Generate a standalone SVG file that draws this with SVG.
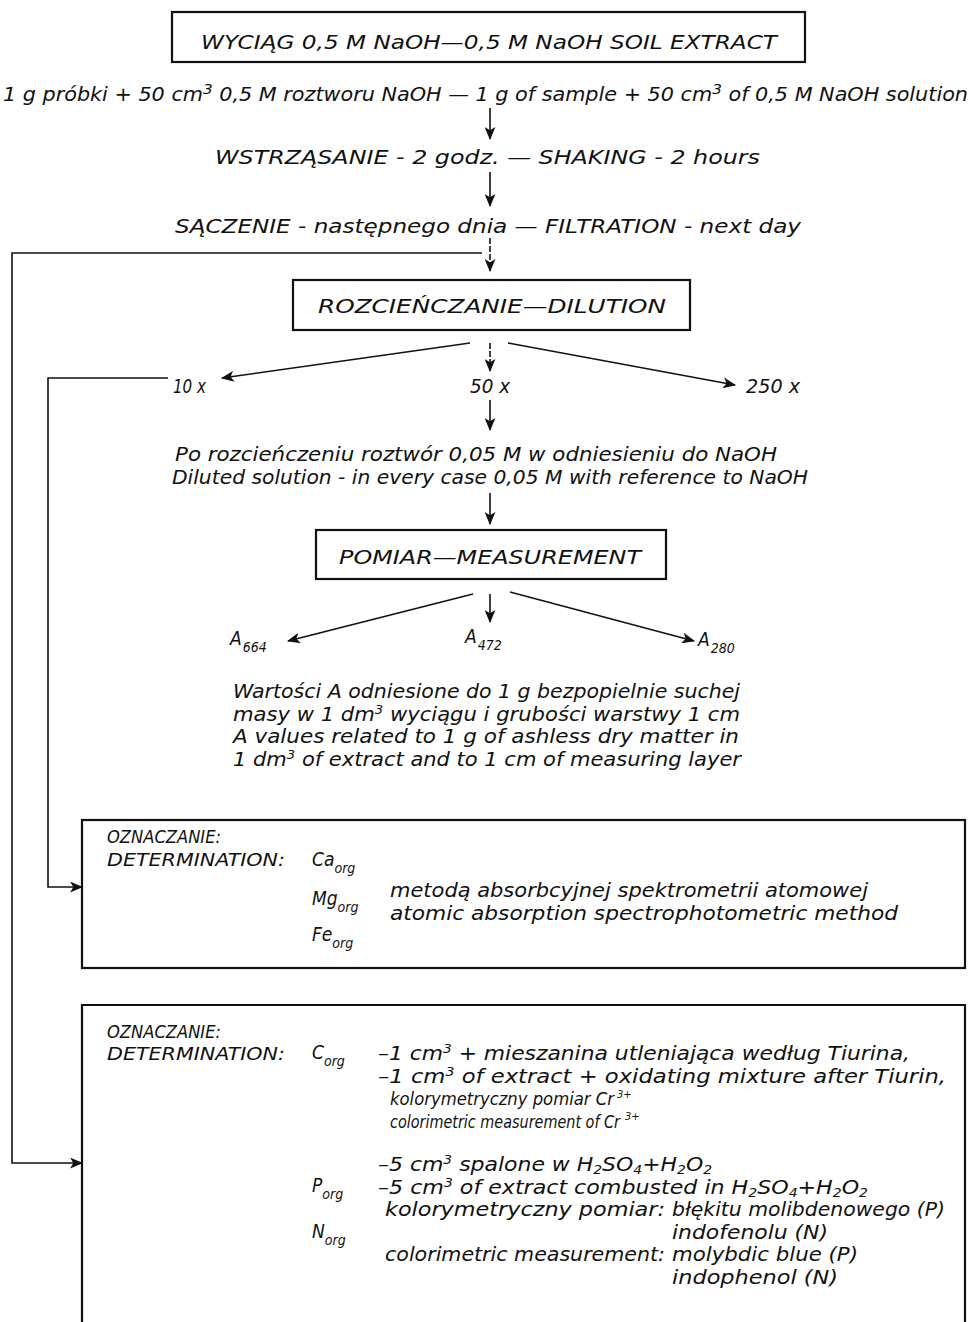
<svg xmlns="http://www.w3.org/2000/svg" width="973" height="1322" viewBox="0 0 973 1322">
<defs>
<style>
text{font-family:"DejaVu Sans Condensed","Liberation Sans",sans-serif;font-style:italic;fill:#111;font-size:19px}
.t{font-size:20px}
.m{font-size:17px}
.box{fill:#fff;stroke:#111;stroke-width:2.2}
.ln{fill:none;stroke:#111;stroke-width:1.6}
.s{font-size:14px}
.u{font-size:12px}
.v{font-size:11px}
</style>
<marker id="ah" viewBox="0 0 12 10" refX="11" refY="5" markerWidth="13" markerHeight="11" markerUnits="userSpaceOnUse" orient="auto">
<path d="M0,0 L12,5 L0,10 L3,5 Z" fill="#111"/>
</marker>
</defs>
<rect width="973" height="1322" fill="#fff"/>

<g id="connectors">
<line class="ln" x1="490" y1="108" x2="490" y2="139" marker-end="url(#ah)"/>
<line class="ln" x1="490" y1="172" x2="490" y2="206" marker-end="url(#ah)"/>
<line class="ln" x1="490" y1="238" x2="490" y2="271" stroke-dasharray="6,2" marker-end="url(#ah)"/>
<polyline class="ln" points="482,253 12,253 12,1163 82,1163" marker-end="url(#ah)"/>
<line class="ln" x1="470" y1="343" x2="222" y2="378" marker-end="url(#ah)"/>
<line class="ln" x1="490" y1="343" x2="490" y2="371" stroke-dasharray="6,2" marker-end="url(#ah)"/>
<line class="ln" x1="508" y1="343" x2="735" y2="385" marker-end="url(#ah)"/>
<polyline class="ln" points="168,378 48,378 48,887 82,887" marker-end="url(#ah)"/>
<line class="ln" x1="490" y1="400" x2="490" y2="430" marker-end="url(#ah)"/>
<line class="ln" x1="490" y1="493" x2="490" y2="524" marker-end="url(#ah)"/>
<line class="ln" x1="473" y1="594" x2="288" y2="641" marker-end="url(#ah)"/>
<line class="ln" x1="490" y1="594" x2="490" y2="622" marker-end="url(#ah)"/>
<line class="ln" x1="510" y1="592" x2="694" y2="641" marker-end="url(#ah)"/>
</g>

<g id="n-extract">
<rect class="box" x="172" y="12" width="633" height="50"/>
<text class="t" x="201" y="49" textLength="576" lengthAdjust="spacingAndGlyphs">WYCIĄG 0,5 M NaOH—0,5 M NaOH SOIL EXTRACT</text>
</g>

<g id="n-sample">
<text x="3" y="101" textLength="965" lengthAdjust="spacingAndGlyphs">1 g próbki + 50 cm<tspan class="s" dy="-7">3</tspan><tspan dy="7"> 0,5 M roztworu NaOH — 1 g of sample + 50 cm</tspan><tspan class="s" dy="-7">3</tspan><tspan dy="7"> of 0,5 M NaOH solution</tspan></text>
</g>

<g id="n-shaking">
<text x="215" y="164" textLength="545" lengthAdjust="spacingAndGlyphs">WSTRZĄSANIE - 2 godz. — SHAKING - 2 hours</text>
</g>

<g id="n-filtration">
<text x="175" y="233" textLength="626" lengthAdjust="spacingAndGlyphs">SĄCZENIE - następnego dnia — FILTRATION - next day</text>
</g>

<g id="n-dilution">
<rect class="box" x="293" y="280" width="397" height="50"/>
<text class="t" x="318" y="313" textLength="348" lengthAdjust="spacingAndGlyphs">ROZCIEŃCZANIE—DILUTION</text>
</g>

<g id="n-10x"><text x="173" y="393" textLength="33" lengthAdjust="spacingAndGlyphs">10 x</text></g>
<g id="n-50x"><text x="470" y="393" textLength="40" lengthAdjust="spacingAndGlyphs">50 x</text></g>
<g id="n-250x"><text x="746" y="393" textLength="54" lengthAdjust="spacingAndGlyphs">250 x</text></g>

<g id="n-diluted">
<text x="175" y="461" textLength="602" lengthAdjust="spacingAndGlyphs">Po rozcieńczeniu roztwór 0,05 M w odniesieniu do NaOH</text>
<text x="172" y="484" textLength="636" lengthAdjust="spacingAndGlyphs">Diluted solution - in every case 0,05 M with reference to NaOH</text>
</g>

<g id="n-measurement">
<rect class="box" x="316" y="530" width="350" height="49"/>
<text class="t" x="339" y="564" textLength="302" lengthAdjust="spacingAndGlyphs">POMIAR—MEASUREMENT</text>
</g>

<g id="n-a664"><text x="230" y="645">A<tspan class="s" dx="1" dy="7">664</tspan></text></g>
<g id="n-a472"><text x="465" y="643">A<tspan class="s" dx="1" dy="7">472</tspan></text></g>
<g id="n-a280"><text x="698" y="646">A<tspan class="s" dx="1" dy="7">280</tspan></text></g>

<g id="n-avalues">
<text x="233" y="698" textLength="507" lengthAdjust="spacingAndGlyphs">Wartości A odniesione do 1 g bezpopielnie suchej</text>
<text x="233" y="721" textLength="507" lengthAdjust="spacingAndGlyphs">masy w 1 dm<tspan class="u" dy="-7">3</tspan><tspan dy="7"> wyciągu i grubości warstwy 1 cm</tspan></text>
<text x="233" y="743" textLength="506" lengthAdjust="spacingAndGlyphs">A values related to 1 g of ashless dry matter in</text>
<text x="233" y="766" textLength="508" lengthAdjust="spacingAndGlyphs">1 dm<tspan class="u" dy="-7">3</tspan><tspan dy="7"> of extract and to 1 cm of measuring layer</tspan></text>
</g>

<g id="n-det-metals">
<rect class="box" x="82" y="820" width="883" height="148"/>
<text class="m" x="107" y="843" textLength="114" lengthAdjust="spacingAndGlyphs">OZNACZANIE:</text>
<text class="m" x="107" y="866" textLength="178" lengthAdjust="spacingAndGlyphs">DETERMINATION:</text>
<text x="312" y="866">Ca<tspan class="s" dy="7">org</tspan></text>
<text x="312" y="905">Mg<tspan class="s" dy="7">org</tspan></text>
<text x="312" y="941">Fe<tspan class="s" dy="7">org</tspan></text>
<text x="390" y="897" textLength="478" lengthAdjust="spacingAndGlyphs">metodą absorbcyjnej spektrometrii atomowej</text>
<text x="390" y="920" textLength="508" lengthAdjust="spacingAndGlyphs">atomic absorption spectrophotometric method</text>
</g>

<g id="n-det-cpn">
<path class="box" d="M82,1330 V1005 H965 V1330" fill="#fff"/>
<text class="m" x="107" y="1038" textLength="114" lengthAdjust="spacingAndGlyphs">OZNACZANIE:</text>
<text class="m" x="107" y="1060" textLength="178" lengthAdjust="spacingAndGlyphs">DETERMINATION:</text>
<text x="312" y="1059">C<tspan class="s" dy="7">org</tspan></text>
<text x="378" y="1060" textLength="532" lengthAdjust="spacingAndGlyphs">–1 cm<tspan class="u" dy="-7">3</tspan><tspan dy="7"> + mieszanina utleniająca według Tiurina,</tspan></text>
<text x="378" y="1083" textLength="568" lengthAdjust="spacingAndGlyphs">–1 cm<tspan class="u" dy="-7">3</tspan><tspan dy="7"> of extract + oxidating mixture after Tiurin,</tspan></text>
<text class="m" x="390" y="1105" textLength="224" lengthAdjust="spacingAndGlyphs">kolorymetryczny pomiar Cr</text>
<text class="v" x="617" y="1098">3+</text>
<text class="m" x="390" y="1128" textLength="230" lengthAdjust="spacingAndGlyphs">colorimetric measurement of Cr</text>
<text class="v" x="625" y="1120">3+</text>
<text x="378" y="1171" textLength="334" lengthAdjust="spacingAndGlyphs">–5 cm<tspan class="u" dy="-7">3</tspan><tspan dy="7"> spalone w H</tspan><tspan class="u" dy="3">2</tspan><tspan dy="-3">SO</tspan><tspan class="u" dy="3">4</tspan><tspan dy="-3">+H</tspan><tspan class="u" dy="3">2</tspan><tspan dy="-3">O</tspan><tspan class="u" dy="3">2</tspan></text>
<text x="312" y="1192">P<tspan class="s" dy="7">org</tspan></text>
<text x="378" y="1194" textLength="490" lengthAdjust="spacingAndGlyphs">–5 cm<tspan class="u" dy="-7">3</tspan><tspan dy="7"> of extract combusted in H</tspan><tspan class="u" dy="3">2</tspan><tspan dy="-3">SO</tspan><tspan class="u" dy="3">4</tspan><tspan dy="-3">+H</tspan><tspan class="u" dy="3">2</tspan><tspan dy="-3">O</tspan><tspan class="u" dy="3">2</tspan></text>
<text x="385" y="1216" textLength="280" lengthAdjust="spacingAndGlyphs">kolorymetryczny pomiar:</text>
<text x="672" y="1216" textLength="273" lengthAdjust="spacingAndGlyphs">błękitu molibdenowego (P)</text>
<text x="312" y="1238">N<tspan class="s" dy="7">org</tspan></text>
<text x="672" y="1239" textLength="156" lengthAdjust="spacingAndGlyphs">indofenolu (N)</text>
<text x="385" y="1261" textLength="280" lengthAdjust="spacingAndGlyphs">colorimetric measurement:</text>
<text x="672" y="1261" textLength="186" lengthAdjust="spacingAndGlyphs">molybdic blue (P)</text>
<text x="672" y="1284" textLength="166" lengthAdjust="spacingAndGlyphs">indophenol (N)</text>
</g>
</svg>
